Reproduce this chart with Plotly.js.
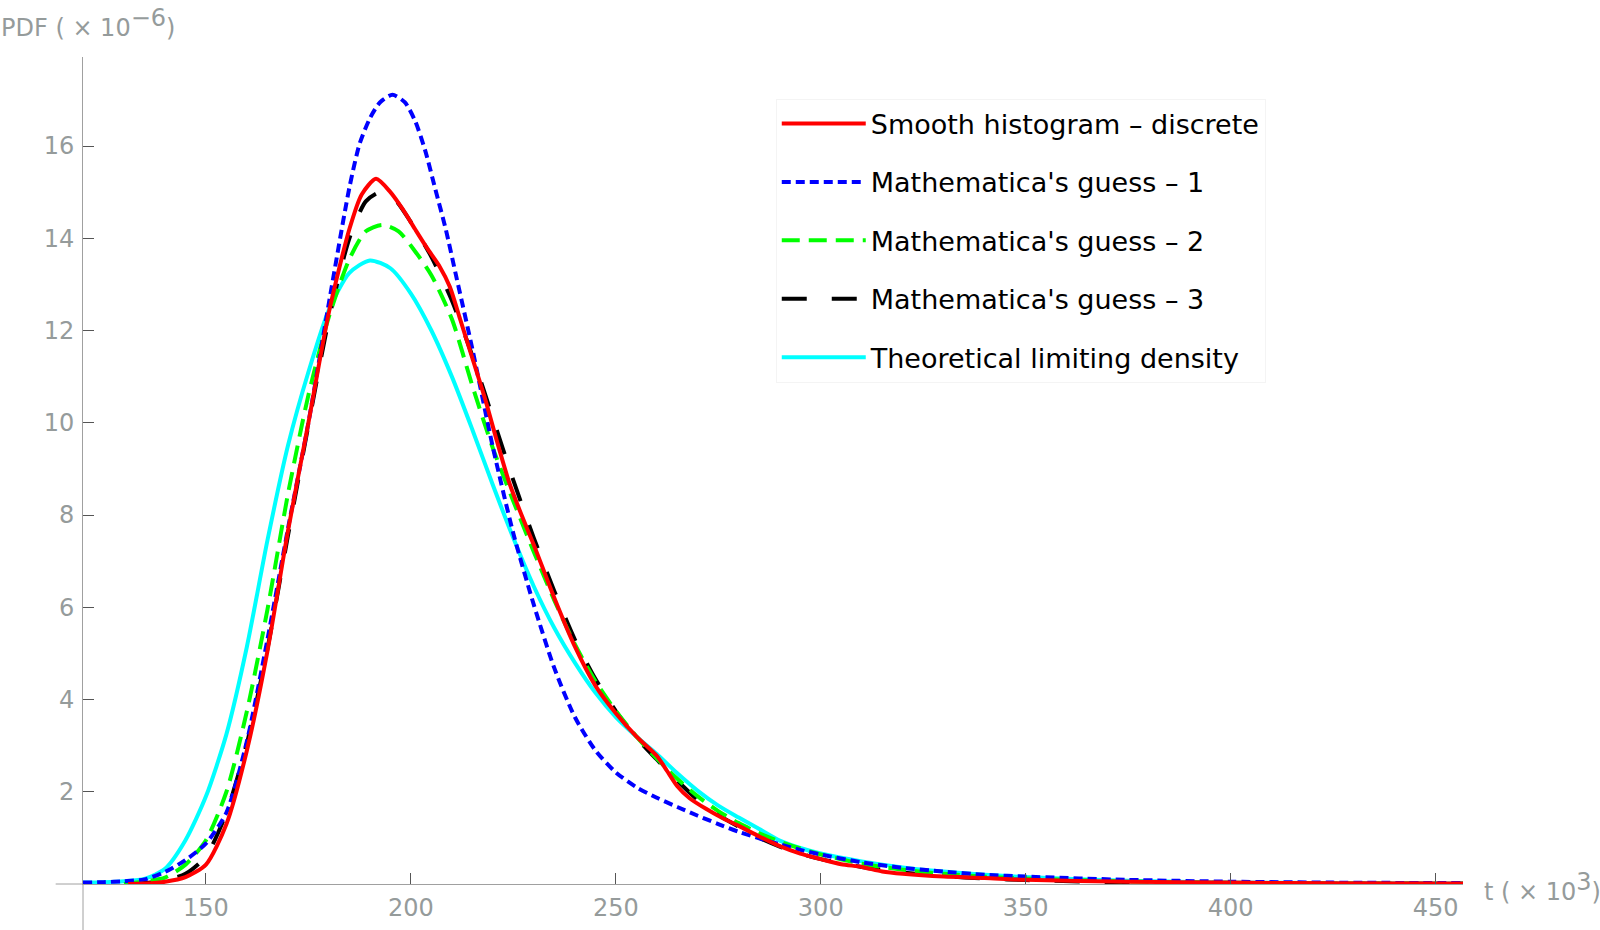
<!DOCTYPE html>
<html>
<head>
<meta charset="utf-8">
<script src="https://cdn.plot.ly/plotly-3.0.1.min.js"></script>
<style>html,body{margin:0;padding:0;background:#fff;}#chart{width:1600px;height:930px;}</style>
</head>
<body>
<div id="chart"></div>
<script>
// t in units of 10^3, PDF in units of 10^-6
const redT   = [131,135,140,145,150,155,160,165,170,175,180,185,188,191.5,195,198,201,204,207,209.5,212,215,218,221,224,227,230,235,240,245,250,255,260,262.5,265,268,272,276,280,285,290,295,300,305,310,315,320,330,340,350,375,400,425,457];
const redPDF = [0.0,0.01,0.05,0.15,0.42,1.3,2.9,5.05,7.65,10.0,12.4,14.2,14.95,15.29,15.0,14.63,14.2,13.78,13.39,12.95,12.25,11.4,10.55,9.6,8.7,8.0,7.35,6.2,5.15,4.3,3.7,3.2,2.78,2.45,2.12,1.86,1.63,1.43,1.26,1.03,0.82,0.66,0.54,0.43,0.37,0.27,0.22,0.16,0.13,0.09,0.05,0.03,0.015,0.01];

const blueT   = [120,125,130,135,140,145,150,155,160,165,170,175,180,185,187.5,190,192.5,195.5,198.5,201,203.5,206,208.5,211,215,220,225,230,235,240,245,250,255,260,265,270,275,280,285,290,295,300,310,320,330,340,350,375,400,425,457];
const bluePDF = [0.03,0.04,0.06,0.1,0.26,0.52,0.88,1.55,3.1,5.3,7.7,10.0,12.6,15.1,16.05,16.6,16.95,17.11,16.95,16.55,15.9,15.05,14.2,13.2,11.6,9.47,7.6,6.05,4.68,3.62,2.9,2.42,2.1,1.87,1.67,1.48,1.3,1.13,0.99,0.86,0.74,0.64,0.47,0.35,0.27,0.2,0.16,0.09,0.05,0.03,0.02];

const greenT   = [130,135,140,145,150,155,160,165,170,175,180,185,189,193,197,201,205,210,215,220,225,230,235,240,245,250,255,260,265,270,275,280,285,290,295,300,310,320,330,340,350,375,400,425,457];
const greenPDF = [0.0,0.06,0.14,0.42,0.95,2.0,3.75,5.95,8.45,10.6,12.3,13.55,14.15,14.29,14.15,13.72,13.2,12.25,10.8,9.45,8.3,7.2,6.15,5.2,4.4,3.75,3.2,2.72,2.28,1.9,1.58,1.32,1.1,0.92,0.77,0.64,0.44,0.31,0.22,0.16,0.12,0.055,0.025,0.012,0.006];

const blackT   = [131,135,140,145,150,155,160,165,170,175,180,185,189,192.5,196,200,205,210,215,220,225,230,235,240,245,250,255,260,265,270,275,280,285,290,295,300,310,320,330,340,350,375,400,425,457];
const blackPDF = [0.0,0.02,0.08,0.22,0.6,1.55,3.05,5.1,7.55,9.95,12.25,14.0,14.8,15.0,14.85,14.35,13.6,12.65,11.45,10.1,8.75,7.5,6.35,5.3,4.45,3.75,3.17,2.7,2.24,1.82,1.5,1.24,1.0,0.81,0.66,0.54,0.37,0.25,0.17,0.12,0.085,0.035,0.015,0.007,0.003];

const cyanT   = [120,125,130,135,140,145,150,155,160,165,170,175,180,185,190,195,200,205,210,215,220,225,230,235,240,245,250,255,260,265,270,275,280,285,290,295,300,310,320,330,340,350,375,400,425,457];
const cyanPDF = [0.03,0.04,0.06,0.11,0.33,0.95,1.9,3.25,5.15,7.45,9.5,11.1,12.45,13.25,13.52,13.35,12.8,12.0,11.0,9.85,8.65,7.5,6.45,5.55,4.8,4.15,3.62,3.2,2.82,2.4,2.02,1.7,1.44,1.19,0.94,0.78,0.66,0.49,0.36,0.27,0.2,0.15,0.07,0.035,0.018,0.01];

const seriesNames = ["Smooth histogram – discrete","Mathematica's guess – 1","Mathematica's guess – 2","Mathematica's guess – 3","Theoretical limiting density"];
const xTicks = [150,200,250,300,350,400,450];
const yTicks = [2,4,6,8,10,12,14,16];

const FONT = "DejaVu Sans, Verdana, sans-serif";
const GREY = "#959b9b";

function tr(x, y, name, color, dash, rank){
  return {x:x, y:y, name:name, type:'scatter', mode:'lines', legendgroup:'g'+rank, legendrank:rank,
    line:{color:color, width:4, dash:dash, shape:'spline', smoothing:0.7}, hoverinfo:'skip'};
}
// drawn bottom -> top; legend ranks put red first
const data = [
  tr(cyanT, cyanPDF, seriesNames[4], '#00ffff', 'solid', 5),
  tr(blackT, blackPDF, seriesNames[3], '#000000', '25px,25px', 4),
  tr(greenT, greenPDF, seriesNames[2], '#00ff00', '18px,9px', 3),
  tr(blueT, bluePDF, seriesNames[1], '#0000ff', '9px,5px', 2),
  tr(redT, redPDF, seriesNames[0], '#ff0000', 'solid', 1)
];

const layout = {
  width:1600, height:930,
  margin:{l:83, r:137, t:57, b:46, pad:0},
  paper_bgcolor:'#ffffff', plot_bgcolor:'#ffffff',
  font:{family:FONT, size:24, color:GREY},
  showlegend:true,
  legend:{x:0.502, y:0.9498, xanchor:'left', yanchor:'top',
    bgcolor:'#ffffff', bordercolor:'#f4f4f4', borderwidth:1,
    font:{family:FONT, size:27, color:'#000000'},
    traceorder:'grouped', tracegroupgap:20.3, itemwidth:84},
  xaxis:{range:[120,456.7], showgrid:false, zeroline:false,
    showline:true, linecolor:'#a0a0a0', linewidth:1,
    ticks:'inside', ticklen:11, tickwidth:1, tickcolor:'#555555',
    tickmode:'array', tickvals:xTicks, ticktext:xTicks.map(String),
    tickfont:{family:FONT, size:24, color:GREY}, ticklabelstandoff:2},
  yaxis:{range:[0,17.93], showgrid:false, zeroline:false,
    showline:true, linecolor:'#a0a0a0', linewidth:1,
    ticks:'inside', ticklen:11, tickwidth:1, tickcolor:'#555555',
    tickmode:'array', tickvals:yTicks, ticktext:yTicks.map(String),
    tickfont:{family:FONT, size:24, color:GREY}, ticklabelstandoff:3},
  shapes:[
    {type:'line', xref:'paper', yref:'paper', x0:-0.0198, x1:0, y0:0, y1:0, line:{color:'#a0a0a0', width:1}},
    {type:'line', xref:'paper', yref:'paper', x0:0, x1:0, y0:0, y1:-0.056, line:{color:'#a0a0a0', width:1}}
  ],
  annotations:[
    {xref:'paper', yref:'paper', x:-0.0611, y:1.0157, xanchor:'left', yanchor:'bottom', showarrow:false,
     text:'PDF ( × 10<sup><span style="font-size:24px">−6</span></sup>)', font:{family:FONT, size:24, color:GREY}},
    {xref:'paper', yref:'paper', x:1.0141, y:-0.004, xanchor:'left', yanchor:'middle', showarrow:false,
     text:'t ( × 10<sup><span style="font-size:24px">3</span></sup>)', font:{family:FONT, size:24, color:GREY}}
  ]
};

Plotly.newPlot('chart', data, layout, {displayModeBar:false, staticPlot:true});
</script>
</body>
</html>
